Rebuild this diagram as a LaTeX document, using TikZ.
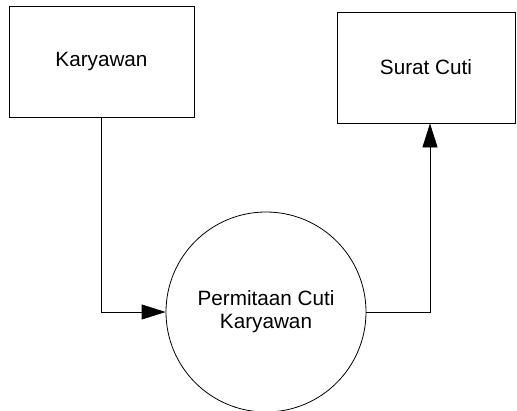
\documentclass[tikz,border=0pt]{standalone}
\usepackage{fontspec}
\setmainfont{Liberation Sans}
\usetikzlibrary{arrows.meta}
\begin{document}
\begin{tikzpicture}[x=1pt,y=-1pt,
  entity/.style={draw, line width=0.8pt, minimum width=185pt, minimum height=111pt,
    inner sep=0pt, font=\fontsize{20.7}{24}\selectfont},
  process/.style={draw, circle, line width=0.8pt, minimum size=200pt, inner sep=0pt,
    align=center, font=\fontsize{20.7}{23}\selectfont},
  flow/.style={line width=0.8pt, -{Triangle[length=24pt,width=15pt]}}]
\useasboundingbox (0,0) rectangle (517,410);
% external entities
\node[entity] (karyawan) at (101.5,61.5) {Karyawan};
\node[entity, minimum width=178pt] (surat) at (426,67.5) {Surat Cuti};
% process
\node[process] (permintaan) at (266,312) {Permitaan Cuti\\Karyawan};
% data flows
\draw[flow] (karyawan.south) |- (permintaan.west);
\draw[flow] (permintaan.east) -| ([xshift=4pt]surat.south);
\end{tikzpicture}
\end{document}
